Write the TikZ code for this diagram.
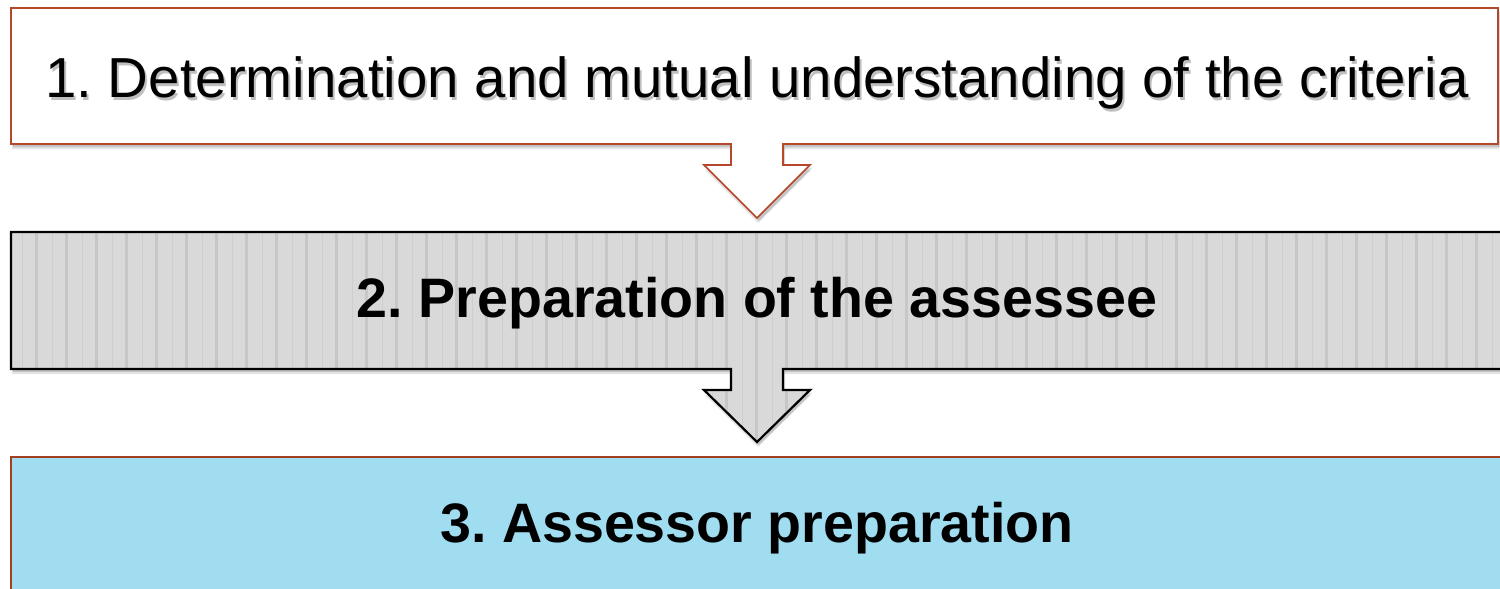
\documentclass[tikz,border=0pt]{standalone}
\usepackage{fontspec}
\setmainfont{Liberation Sans}
\frenchspacing
\definecolor{redline}{HTML}{B5472A}
\definecolor{redlinethree}{HTML}{A33F1C}
\definecolor{stripebg}{HTML}{D9D9D9}
\definecolor{stripethin}{HTML}{CECECE}
\definecolor{stripethick}{HTML}{C7C7C7}
\definecolor{bluefill}{HTML}{A0DDF1}
\tikzset{
  shapeone/.style={insert path={(11,8) -- (1498,8) -- (1498,144) -- (783,144) -- (783,165) -- (810,165) -- (757,218) -- (704,165) -- (731,165) -- (731,144) -- (11,144) -- cycle}},
  shapetwo/.style={insert path={(11,232) -- (1512,232) -- (1512,369) -- (783,369) -- (783,390) -- (810,390) -- (757,442) -- (704,390) -- (731,390) -- (731,369) -- (11,369) -- cycle}},
  shadowsoft/.style={fill=black, opacity=0.10},
  shadowhard/.style={fill=black, opacity=0.14},
  bigtext/.style={anchor=base, font=\fontsize{56.4}{68}\selectfont},
  boldtext/.style={anchor=base, font=\fontsize{55.6}{66}\selectfont\bfseries},
}
\begin{document}
\begin{tikzpicture}[x=1pt,y=-1pt]
\useasboundingbox (0,0) rectangle (1500,589);
\clip (0,0) rectangle (1500,589);
\fill[white] (0,0) rectangle (1500,589);
% shadows
\fill[shadowsoft, shift={(1,5)}, shapeone];
\fill[shadowhard, shift={(2,3)}, shapeone];
\fill[shadowsoft, shift={(1,5)}, shapetwo];
\fill[shadowhard, shift={(2,3)}, shapetwo];
% box 1 with arrow
\filldraw[fill=white, draw=redline, line width=1.6, shapeone];
% box 2 with arrow, striped
\begin{scope}
  \clip[shapetwo];
  \fill[stripebg] (0,225) rectangle (1512,450);
  \foreach \k in {0,...,50} {
    \draw[stripethin, line width=1.3] ({22.7+30*\k},225) -- ++(0,225);
    \draw[stripethick, line width=2.6] ({36.7+30*\k},225) -- ++(0,225);
  }
\end{scope}
\draw[black, line width=2.2, shapetwo];
% box 3
\fill[bluefill] (11,457) rectangle (1512,600);
\draw[redlinethree, line width=2.6] (11,600) -- (11,457) -- (1512,457);
% texts
\node[bigtext, text=black!45, opacity=0.55] (t1s) at (759,100) {1. Determination and mutual understanding of the criteria};
\node[bigtext] (t1) at (757,97) {1. Determination and mutual understanding of the criteria};
\node[boldtext] (t2) at (757,317) {2. Preparation of the assessee};
\node[boldtext] (t3) at (757,542) {3. Assessor preparation};
\end{tikzpicture}
\end{document}
